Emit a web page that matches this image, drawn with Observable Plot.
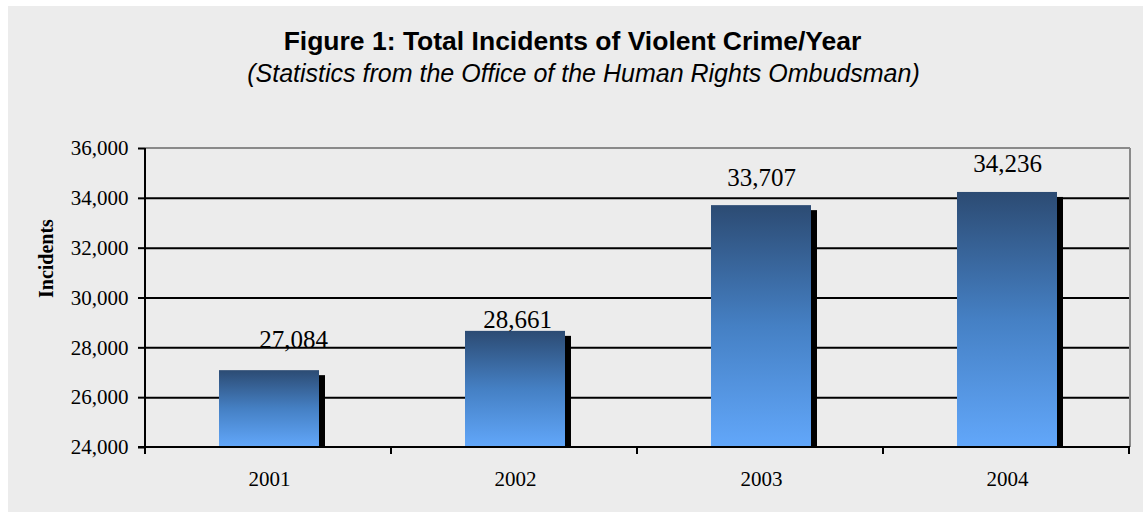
<!DOCTYPE html>
<html>
<head>
<meta charset="utf-8">
<script src="https://cdn.jsdelivr.net/npm/d3@7"></script>
<script src="https://cdn.jsdelivr.net/npm/@observablehq/plot@0.6"></script>
<style>
  body { margin: 0; background: #fff; }
  #wrap { position: relative; width: 1143px; height: 512px; overflow: hidden; }
  #bg { position: absolute; left: 8px; top: 6px; width: 1135px; height: 506px; background: #ececec; }
  .title { position: absolute; width: 1143px; text-align: center; line-height: 1; color: #000; font-family: "Liberation Sans", Arial, sans-serif; white-space: nowrap; }
  #t1 { left: 1px; top: 28px; font-size: 26.5px; font-weight: bold; }
  #t2 { left: 12px; top: 61px; font-size: 25px; font-style: italic; }
  #chart { position: absolute; left: 0; top: 100px; }
</style>
</head>
<body>
<div id="wrap">
  <div id="bg"></div>
  <div class="title" id="t1">Figure 1: Total Incidents of Violent Crime/Year</div>
  <div class="title" id="t2">(Statistics from the Office of the Human Rights Ombudsman)</div>
  <div id="chart"></div>
</div>
<script>
const years = ["2001", "2002", "2003", "2004"];
const incidents = [27084, 28661, 33707, 34236];
const yTicks = [24000, 26000, 28000, 30000, 32000, 34000, 36000];
const yLabel = "Incidents";

const data = years.map((y, i) => ({year: y, value: incidents[i]}));
const yMin = yTicks[0], yMax = yTicks[yTicks.length - 1];
const ns = "http://www.w3.org/2000/svg";

function gradientDefs() {
  const defs = document.createElementNS(ns, "defs");
  const lg = document.createElementNS(ns, "linearGradient");
  lg.setAttribute("id", "barGrad");
  lg.setAttribute("x1", "0"); lg.setAttribute("y1", "0");
  lg.setAttribute("x2", "0"); lg.setAttribute("y2", "1");
  [["0", "#2c4b73"], ["0.5", "#4580c4"], ["1", "#62a7fa"]].forEach(([o, c]) => {
    const s = document.createElementNS(ns, "stop");
    s.setAttribute("offset", o); s.setAttribute("stop-color", c);
    lg.appendChild(s);
  });
  defs.appendChild(lg);
  return defs;
}

function frameLines(index, scales, values, dims) {
  const x = scales.x, y = scales.y;
  const g = document.createElementNS(ns, "g");
  const line = (x1, y1, x2, y2, stroke) => {
    const l = document.createElementNS(ns, "line");
    l.setAttribute("x1", x1); l.setAttribute("y1", y1);
    l.setAttribute("x2", x2); l.setAttribute("y2", y2);
    l.setAttribute("stroke", stroke); l.setAttribute("stroke-width", 2);
    g.appendChild(l);
  };
  const left = dims.marginLeft, right = dims.width - dims.marginRight;
  const top = y(yMax), bottom = y(yMin);
  // top and right border (gray)
  line(left, top, right, top, "#8a8a8a");
  line(right, top, right, bottom, "#8a8a8a");
  // left axis and bottom axis (black)
  line(left, top, left, bottom + 1, "#000");
  line(left - 7, bottom, right, bottom, "#000");
  // category boundary ticks
  const step = x(years[1]) - x(years[0]);
  for (let i = 0; i <= years.length; i++) {
    const xx = left + i * step;
    line(xx, bottom, xx, bottom + 7, "#000");
  }
  return g;
}

const plot = Plot.plot({
  width: 1143,
  height: 400,
  marginTop: 48,
  marginBottom: 53,
  marginLeft: 145,
  marginRight: 13,
  style: {background: "transparent", fontFamily: "'Liberation Serif', 'Times New Roman', serif", color: "#000"},
  x: {domain: years, paddingInner: 0.594, paddingOuter: 0.297, label: null},
  y: {domain: [yMin, yMax], label: null},
  marks: [
    () => gradientDefs(),
    Plot.ruleY(yTicks.slice(1, -1), {stroke: "#000", strokeWidth: 2}),
    Plot.barY(data, {x: "year", y1: yMin, y2: "value", fill: "#000", dx: 6, insetTop: 5}),
    Plot.barY(data, {x: "year", y1: yMin, y2: "value", fill: "url(#barGrad)"}),
    frameLines,
    Plot.axisY({ticks: yTicks, tickFormat: d3.format(","), tickSize: 7, tickPadding: 10, fontSize: 21, stroke: "#000", strokeWidth: 2, strokeOpacity: 1, label: null}),
    Plot.axisX({tickSize: 0, tickPadding: 24, fontSize: 21, label: null}),
    Plot.text([yLabel], {frameAnchor: "left", rotate: -90, dx: -99, fontSize: 20, fontWeight: "bold"}),
    Plot.text(data.filter(d => d.year === "2001"), {x: "year", y: "value", text: d => d3.format(",")(d.value), lineAnchor: "bottom", dx: 24, dy: -23, fontSize: 25}),
    Plot.text(data.filter(d => d.year === "2002"), {x: "year", y: "value", text: d => d3.format(",")(d.value), lineAnchor: "bottom", dx: 2, dy: -3, fontSize: 25}),
    Plot.text(data.filter(d => d.year > "2002"), {x: "year", y: "value", text: d => d3.format(",")(d.value), lineAnchor: "bottom", dy: -20, fontSize: 25})
  ]
});
document.getElementById("chart").appendChild(plot);
</script>
</body>
</html>
